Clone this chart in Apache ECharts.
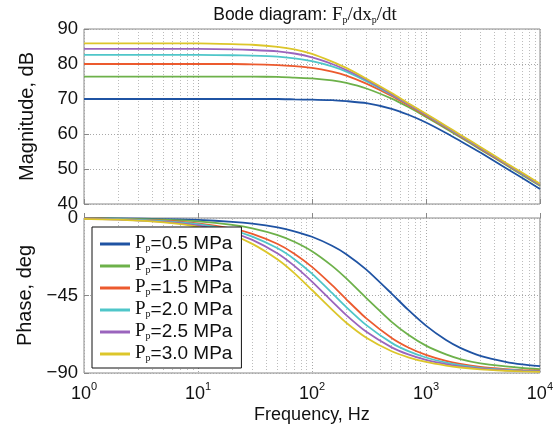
<!DOCTYPE html>
<html>
<head>
<meta charset="utf-8">
<script src="https://cdn.jsdelivr.net/npm/echarts@6/dist/echarts.min.js"></script>
<style>
  html, body { margin: 0; padding: 0; background: #fff; }
  #chart { width: 556px; height: 434px; }
</style>
</head>
<body>
<div id="chart"></div>
<script>
// Sample frequencies (Hz) shared by every curve
const freqHz = [1, 2, 5, 10, 20, 30, 50, 70, 100, 150, 200, 300, 500, 700, 1000, 1500, 2000, 3000, 5000, 7000, 10000];

// Supply pressures, MPa
const pressures = ['0.5', '1.0', '1.5', '2.0', '2.5', '3.0'];

// Magnitude, dB
const magP05 = [70.0, 70.0, 70.0, 70.0, 70.0, 70.0, 70.0, 69.9, 69.8, 69.7, 69.4, 68.8, 67.2, 65.5, 63.3, 60.3, 58.0, 54.7, 50.3, 47.4, 44.3];
const magP10 = [76.4, 76.4, 76.4, 76.4, 76.4, 76.4, 76.3, 76.1, 75.9, 75.3, 74.6, 73.0, 70.1, 67.7, 64.9, 61.5, 59.1, 55.6, 51.2, 48.3, 45.2];
const magP15 = [80.0, 80.0, 80.0, 80.0, 80.0, 79.9, 79.7, 79.4, 78.9, 77.8, 76.7, 74.4, 70.9, 68.2, 65.2, 61.8, 59.3, 55.8, 51.4, 48.5, 45.4];
const magP20 = [82.6, 82.6, 82.6, 82.6, 82.5, 82.4, 82.1, 81.6, 80.8, 79.3, 77.8, 75.1, 71.2, 68.5, 65.5, 62.0, 59.5, 56.0, 51.6, 48.6, 45.5];
const magP25 = [84.3, 84.3, 84.3, 84.3, 84.2, 84.0, 83.6, 83.0, 81.9, 80.0, 78.3, 75.5, 71.4, 68.6, 65.6, 62.1, 59.6, 56.1, 51.6, 48.7, 45.6];
const magP30 = [85.9, 85.9, 85.9, 85.9, 85.7, 85.5, 84.9, 84.2, 82.9, 80.7, 78.9, 75.8, 71.7, 68.8, 65.8, 62.3, 59.8, 56.3, 51.8, 48.9, 45.8];

// Phase, deg
const phP05 = [-0.1, -0.2, -0.6, -1.1, -2.2, -3.3, -5.5, -7.7, -10.9, -16.1, -21.0, -30.0, -43.9, -53.4, -62.5, -70.9, -75.4, -80.0, -83.5, -85.0, -86.0];
const phP10 = [-0.2, -0.4, -1.0, -2.0, -4.0, -6.0, -9.9, -13.8, -19.3, -27.8, -35.1, -46.5, -60.3, -67.8, -74.1, -79.2, -81.9, -84.4, -86.2, -87.1, -87.7];
const phP15 = [-0.3, -0.6, -1.5, -3.1, -6.2, -9.2, -15.1, -20.7, -28.4, -39.0, -47.2, -58.3, -69.7, -75.2, -79.5, -83.0, -84.7, -86.4, -87.7, -88.3, -88.7];
const phP20 = [-0.4, -0.7, -1.8, -3.6, -7.2, -10.8, -17.6, -23.9, -32.3, -43.5, -51.7, -62.2, -72.5, -77.3, -81.0, -84.0, -85.5, -87.0, -88.1, -88.6, -89.0];
const phP25 = [-0.4, -0.9, -2.2, -4.3, -8.6, -12.7, -20.6, -27.8, -36.9, -48.4, -56.4, -66.1, -75.1, -79.2, -82.4, -84.9, -86.2, -87.5, -88.4, -88.8, -89.1];
const phP30 = [-0.5, -1.0, -2.6, -5.1, -10.1, -15.0, -24.1, -32.0, -41.8, -53.2, -60.8, -69.5, -77.4, -80.9, -83.6, -85.7, -86.8, -87.9, -88.7, -89.1, -89.4];

// Axis ticks
const magTicks = [40, 50, 60, 70, 80, 90];
const phaseTicks = [-90, -45, 0];
const decadeTicks = [1, 10, 100, 1000, 10000];
// Intermediate log grid lines (2..9 within each decade)
const minorGridHz = [2, 3, 4, 5, 6, 7, 8, 9, 20, 30, 40, 50, 60, 70, 80, 90,
  200, 300, 400, 500, 600, 700, 800, 900, 2000, 3000, 4000, 5000, 6000, 7000, 8000, 9000];

const magSets = [magP05, magP10, magP15, magP20, magP25, magP30];
const phaseSets = [phP05, phP10, phP15, phP20, phP25, phP30];
const colors = ['#1f53a3', '#6db14a', '#ec5a2e', '#4fc6c9', '#9a64bd', '#dcc62a'];

const sansFont = 'Liberation Sans, Arial, sans-serif';
const serifFont = 'Liberation Serif, Times New Roman, serif';
const names = pressures.map(p => 'Pp=' + p + ' MPa');

const pairs = ys => freqHz.map((f, i) => [f, ys[i]]);

const gridMarks = {
  silent: true,
  z: 1,
  symbol: 'none',
  label: { show: false },
  emphasis: { disabled: true },
  lineStyle: { type: [1, 2], color: '#bcbcbc', width: 1 },
  data: minorGridHz.map(v => ({ xAxis: v }))
};

const series = [];
names.forEach((name, k) => {
  series.push({
    name, type: 'line', xAxisIndex: 0, yAxisIndex: 0,
    data: pairs(magSets[k]), showSymbol: false, smooth: 0.2,
    lineStyle: { width: 1.8, color: colors[k] }, itemStyle: { color: colors[k] },
    markLine: k === 0 ? gridMarks : undefined, z: 3
  });
});
names.forEach((name, k) => {
  series.push({
    name, type: 'line', xAxisIndex: 1, yAxisIndex: 1,
    data: pairs(phaseSets[k]), showSymbol: false, smooth: 0.2,
    lineStyle: { width: 1.8, color: colors[k] }, itemStyle: { color: colors[k] },
    markLine: k === 0 ? gridMarks : undefined, z: 3
  });
});

const xAxisBase = (gridIndex, showLabels) => ({
  type: 'log', logBase: 10, gridIndex, min: decadeTicks[0], max: decadeTicks[decadeTicks.length - 1],
  axisLine: { show: false },
  axisTick: { show: true, inside: true, length: 5, lineStyle: { color: '#888' } },
  splitLine: { show: true, lineStyle: { type: [1, 2], color: '#a8a8a8' } },
  axisLabel: showLabels ? {
    show: true, margin: 8,
    formatter: v => '{b|10}{s|' + Math.round(Math.log10(v)) + '}',
    rich: {
      b: { fontFamily: sansFont, fontSize: 18, color: '#111', verticalAlign: 'bottom', lineHeight: 22 },
      s: { fontFamily: sansFont, fontSize: 11, color: '#111', verticalAlign: 'top', lineHeight: 22 }
    }
  } : { show: false },
  name: showLabels ? 'Frequency, Hz' : '',
  nameLocation: 'middle', nameGap: 33,
  nameTextStyle: { fontFamily: sansFont, fontSize: 18, color: '#111' }
});

const chart = echarts.init(document.getElementById('chart'), null, { renderer: 'canvas' });
chart.setOption({
  animation: false,
  backgroundColor: '#fff',
  title: {
    text: 'Bode diagram: {s|F}{sub|p}{s|/dx}{sub|p}{s|/dt}',
    left: 300, top: 0, textAlign: 'center',
    textStyle: {
      fontFamily: sansFont, fontSize: 17.5, fontWeight: 'normal', color: '#111', lineHeight: 20,
      rich: {
        s: { fontFamily: serifFont, fontSize: 19, color: '#111', lineHeight: 20, verticalAlign: 'bottom' },
        sub: { fontFamily: serifFont, fontSize: 10, color: '#111', lineHeight: 12, verticalAlign: 'bottom' }
      }
    }
  },
  legend: {
    orient: 'vertical', left: 92, top: 227,
    backgroundColor: '#fff', borderColor: '#111', borderWidth: 1,
    padding: [7, 9, 5, 8], itemGap: 3, itemWidth: 30, itemHeight: 3, icon: 'rect',
    data: names,
    formatter: n => '{P|P}{sub|p}{t|' + n.slice(2) + '}',
    textStyle: {
      padding: [0, 0, 0, 0],
      rich: {
        P: { fontFamily: serifFont, fontSize: 19, color: '#111', lineHeight: 18, verticalAlign: 'bottom' },
        sub: { fontFamily: serifFont, fontSize: 10, color: '#111', lineHeight: 12, verticalAlign: 'bottom' },
        t: { fontFamily: sansFont, fontSize: 19, color: '#111', lineHeight: 18, verticalAlign: 'bottom' }
      }
    },
    itemStyle: { borderWidth: 0 },
    selectedMode: false
  },
  grid: [
    { left: 84, right: 16, top: 29, height: 175, show: true, borderColor: '#8a8a8a', borderWidth: 1, backgroundColor: '#fff' },
    { left: 84, right: 16, top: 218, height: 155, show: true, borderColor: '#8a8a8a', borderWidth: 1, backgroundColor: '#fff' }
  ],
  xAxis: [xAxisBase(0, false), xAxisBase(1, true)],
  yAxis: [
    {
      type: 'value', gridIndex: 0, min: magTicks[0], max: magTicks[magTicks.length - 1], interval: 10,
      axisLine: { show: false },
      axisTick: { show: true, inside: true, length: 5, lineStyle: { color: '#888' } },
      splitLine: { show: true, lineStyle: { type: [1, 2], color: '#a8a8a8' } },
      axisLabel: { fontFamily: sansFont, fontSize: 18.5, color: '#111', margin: 6 },
      name: 'Magnitude, dB', nameLocation: 'middle', nameGap: 47, nameRotate: 90,
      nameTextStyle: { fontFamily: sansFont, fontSize: 20, color: '#111' }
    },
    {
      type: 'value', gridIndex: 1, min: phaseTicks[0], max: phaseTicks[phaseTicks.length - 1], interval: 45,
      axisLine: { show: false },
      axisTick: { show: true, inside: true, length: 5, lineStyle: { color: '#888' } },
      splitLine: { show: true, lineStyle: { type: [1, 2], color: '#a8a8a8' } },
      axisLabel: {
        fontFamily: sansFont, fontSize: 18.5, color: '#111', margin: 6,
        formatter: v => (v < 0 ? '\u2212' + Math.abs(v) : String(v))
      },
      name: 'Phase, deg', nameLocation: 'middle', nameGap: 47, nameRotate: 90,
      nameTextStyle: { fontFamily: sansFont, fontSize: 20, color: '#111' }
    }
  ],
  series
});
</script>
</body>
</html>
